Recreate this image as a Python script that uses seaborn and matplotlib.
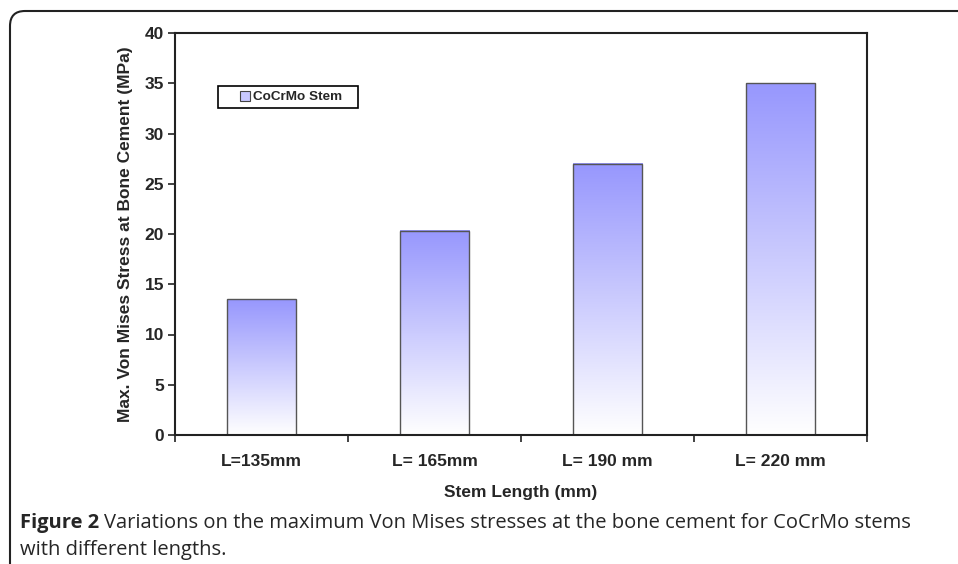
import numpy as np
import pandas as pd
import matplotlib
matplotlib.use("Agg")
import matplotlib.pyplot as plt
import matplotlib.patches as mpatches
from matplotlib.colors import LinearSegmentedColormap
import seaborn as sns

categories = ["L=135mm", "L= 165mm", "L= 190 mm", "L= 220 mm"]
stress_values = [13.5, 20.3, 27.0, 35.0]
series_name = "CoCrMo Stem"
y_ticks = [0, 5, 10, 15, 20, 25, 30, 35, 40]

sns.set_theme(style="white")
plt.rcParams["font.family"] = ["Liberation Sans", "DejaVu Sans"]

df = pd.DataFrame({"Stem Length": categories, "Stress": stress_values})

fig = plt.figure(figsize=(9.58, 5.64), dpi=100)
W, H = 958, 564
ax = fig.add_axes([175 / W, (H - 435) / H, (867 - 175) / W, (435 - 33) / H])

sns.barplot(data=df, x="Stem Length", y="Stress", ax=ax, width=0.4,
            color="#9999ff", edgecolor="#555555", linewidth=1.0, saturation=1)

cmap = LinearSegmentedColormap.from_list("g", ["#ffffff", "#9797fd"])
grad = np.linspace(0, 1, 256).reshape(-1, 1)
for p in ax.patches:
    x0, y0 = p.get_x(), p.get_y()
    w, h = p.get_width(), p.get_height()
    ax.imshow(grad, cmap=cmap, origin="lower", aspect="auto",
              extent=(x0, x0 + w, y0, y0 + h), zorder=p.get_zorder() - 0.1,
              interpolation="bilinear")
    p.set_facecolor("none")
ax.set_xlim(-0.5, len(categories) - 0.5)
ax.set_ylim(0, 40)

for s in ax.spines.values():
    s.set_visible(True)
    s.set_color("#222222")
    s.set_linewidth(1.5)

fs = 12.5
ax.set_yticks(y_ticks)
ax.set_yticklabels([str(v) for v in y_ticks], fontsize=fs, fontweight="bold")
ax.set_xticks(range(len(categories)))
ax.set_xticklabels(categories, fontsize=fs, fontweight="bold")
ax.tick_params(axis="x", which="major", length=0, pad=14)
ax.set_xticks(np.arange(-0.5, len(categories), 1.0), minor=True)
ax.tick_params(axis="x", which="minor", length=5, width=1.2, color="#222222",
               direction="out", bottom=True)
ax.tick_params(axis="y", which="major", length=5, width=1.2, color="#222222",
               direction="out", left=True, pad=3)

ax.set_xlabel("Stem Length (mm)", fontsize=fs, fontweight="bold", labelpad=11)
ax.set_ylabel("Max. Von Mises Stress at Bone Cement (MPa)", fontsize=fs,
              fontweight="bold", labelpad=8)

lfs = 9.7
lpx = lfs * 100 / 72
handle = mpatches.Patch(facecolor="#c8c8ff", edgecolor="#444444", linewidth=0.8,
                        label=series_name)
leg = ax.legend(handles=[handle], loc="center left",
                bbox_to_anchor=(240 / W, 1 - 97 / H), bbox_transform=fig.transFigure,
                frameon=False, prop={"size": lfs, "weight": "bold"},
                handlelength=10 / lpx, handleheight=10 / lpx,
                handletextpad=3 / lpx, borderpad=0, borderaxespad=0)
box = mpatches.Rectangle((218 / W, 1 - 108 / H), 140 / W, 22 / H,
                         transform=fig.transFigure, facecolor="none",
                         edgecolor="black", linewidth=1.2)
fig.patches.append(box)

# Outer rounded frame
frame = mpatches.FancyBboxPatch((0.10, -1.0), 12.0, 5.53 + 1.0,
                                boxstyle="round,pad=0,rounding_size=0.15",
                                transform=fig.dpi_scale_trans,
                                facecolor="none", edgecolor="#222222",
                                linewidth=1.5, clip_on=False)
fig.patches.append(frame)

cap_font = ["Open Sans", "DejaVu Sans"]
cfs = 14.5
fig.text(20 / W, 1 - 523 / H, "Figure 2", fontsize=cfs, fontweight="bold",
         family=cap_font, va="center", ha="left")
fig.text(20 / W, 1 - 523 / H, "", fontsize=cfs, family=cap_font,
         va="center", ha="left")
fig.canvas.draw()
r = fig.texts[0].get_window_extent()
fig.texts[1].set_position(((r.x1 + 5) / W, 1 - 523 / H))
fig.texts[1].set_text("Variations on the maximum Von Mises stresses at the bone cement for CoCrMo stems")
fig.text(20 / W, 1 - 550 / H, "with different lengths.", fontsize=cfs,
         family=cap_font, va="center", ha="left")

fig.savefig("out.png", dpi=100)
